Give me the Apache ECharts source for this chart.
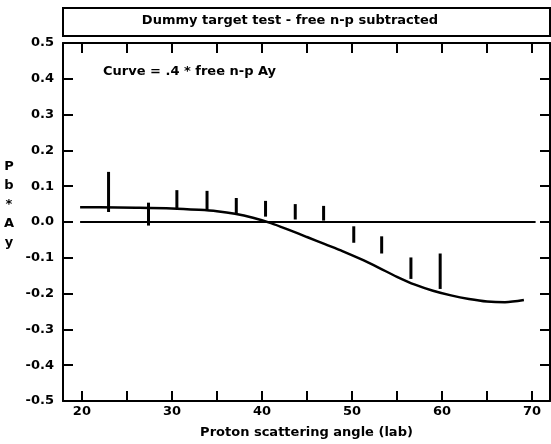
<!DOCTYPE html>
<html>
<head>
<meta charset="utf-8">
<script src="https://cdn.jsdelivr.net/npm/echarts@6/dist/echarts.min.js"></script>
<style>
  html, body { margin: 0; padding: 0; background: #fff; }
  #chart { width: 551px; height: 444px; }
</style>
</head>
<body>
<div id="chart"></div>
<script>
// error bars: angle, low, high
var barAngles = [22.96, 27.4, 30.55, 33.9, 37.15, 40.4, 43.7, 46.85, 50.2, 53.3, 56.55, 59.8];
var barLow    = [0.028, -0.010, 0.039, 0.034, 0.025, 0.015, 0.007, 0.004, -0.058, -0.088, -0.159, -0.187];
var barHigh   = [0.140, 0.054, 0.089, 0.087, 0.067, 0.059, 0.050, 0.045, -0.012, -0.040, -0.099, -0.088];

// curve = .4 * free n-p Ay
var curveAngles = [19.8, 22, 26, 30, 33, 35, 37, 39, 41, 43, 45, 47, 49, 51, 53, 55, 57, 59, 61, 63, 65, 67, 69.1];
var curveValues = [0.041, 0.041, 0.040, 0.038, 0.034, 0.030, 0.023, 0.012, -0.003, -0.022, -0.042, -0.062, -0.082, -0.104, -0.128, -0.153, -0.175, -0.192, -0.205, -0.215, -0.222, -0.224, -0.218];

var zeroLine = [[19.8, 0], [70.4, 0]];

var xTicks = [20, 25, 30, 35, 40, 45, 50, 55, 60, 65, 70];
var xLabels = [20, 30, 40, 50, 60, 70];

var font = 'DejaVu Sans';

var chart = echarts.init(document.getElementById('chart'));

var barData = barAngles.map(function (a, i) {
    return [a, barLow[i], barHigh[i]];
});
var curveData = curveAngles.map(function (a, i) {
    return [a, curveValues[i]];
});

function renderBar(params, api) {
    var p1 = api.coord([api.value(0), api.value(2)]);
    var p2 = api.coord([api.value(0), api.value(1)]);
    return {
        type: 'line',
        shape: { x1: p1[0], y1: p1[1], x2: p2[0], y2: p2[1] },
        style: { stroke: '#000', lineWidth: 3 }
    };
}

var axisLine = { show: true, onZero: false, lineStyle: { color: '#000', width: 2 } };

var option = {
    backgroundColor: '#fff',
    animation: false,
    grid: { left: 63, right: 1, top: 43, bottom: 39 },
    xAxis: [
        {
            type: 'value',
            min: 17.9,
            max: 72,
            position: 'bottom',
            axisLine: axisLine,
            axisTick: { show: true, inside: true, length: 10, customValues: xTicks, lineStyle: { color: '#000', width: 2 } },
            axisLabel: { customValues: xLabels, color: '#000', fontFamily: font, fontWeight: 'bold', fontSize: 13, margin: 4 },
            splitLine: { show: false },
            name: 'Proton scattering angle (lab)',
            nameLocation: 'middle',
            nameGap: 25,
            nameTextStyle: { color: '#000', fontFamily: font, fontWeight: 'bold', fontSize: 13 }
        },
        {
            type: 'value',
            min: 17.9,
            max: 72,
            position: 'top',
            axisLine: axisLine,
            axisTick: { show: true, inside: true, length: 10, customValues: xTicks, lineStyle: { color: '#000', width: 2 } },
            axisLabel: { show: false },
            splitLine: { show: false }
        }
    ],
    yAxis: [
        {
            type: 'value',
            min: -0.5,
            max: 0.5,
            interval: 0.1,
            position: 'left',
            axisLine: axisLine,
            axisTick: { show: true, inside: true, length: 10, lineStyle: { color: '#000', width: 2 } },
            axisLabel: {
                color: '#000', fontFamily: font, fontWeight: 'bold', fontSize: 13, margin: 9,
                formatter: function (v) { return v.toFixed(1); }
            },
            splitLine: { show: false }
        },
        {
            type: 'value',
            min: -0.5,
            max: 0.5,
            interval: 0.1,
            position: 'right',
            axisLine: axisLine,
            axisTick: { show: true, inside: true, length: 10, lineStyle: { color: '#000', width: 2 } },
            axisLabel: { show: false },
            splitLine: { show: false }
        }
    ],
    graphic: [
        {
            type: 'rect',
            shape: { x: 63, y: 8, width: 487, height: 28 },
            style: { fill: 'none', stroke: '#000', lineWidth: 2 }
        },
        {
            type: 'text',
            x: 290, y: 21,
            style: {
                text: 'Dummy target test - free n-p subtracted',
                fill: '#000', font: 'bold 13px "DejaVu Sans"',
                align: 'center', verticalAlign: 'middle'
            }
        },
        {
            type: 'text',
            x: 103, y: 72,
            style: {
                text: 'Curve = .4 * free n-p Ay',
                fill: '#000', font: 'bold 13px "DejaVu Sans"',
                align: 'left', verticalAlign: 'middle'
            }
        },
        {
            type: 'text',
            x: 9, y: 205,
            style: {
                text: 'P\nb\n*\nA\ny',
                fill: '#000', font: 'bold 13px "DejaVu Sans"',
                lineHeight: 19,
                align: 'center', verticalAlign: 'middle'
            }
        }
    ],
    series: [
        {
            name: 'zero',
            type: 'line',
            data: zeroLine,
            symbol: 'none',
            lineStyle: { color: '#000', width: 2 }
        },
        {
            name: 'curve',
            type: 'line',
            data: curveData,
            smooth: 0.3,
            symbol: 'none',
            lineStyle: { color: '#000', width: 2.5 }
        },
        {
            name: 'data',
            type: 'custom',
            data: barData,
            renderItem: renderBar,
            encode: { x: 0, y: [1, 2] }
        }
    ]
};

chart.setOption(option);
</script>
</body>
</html>
